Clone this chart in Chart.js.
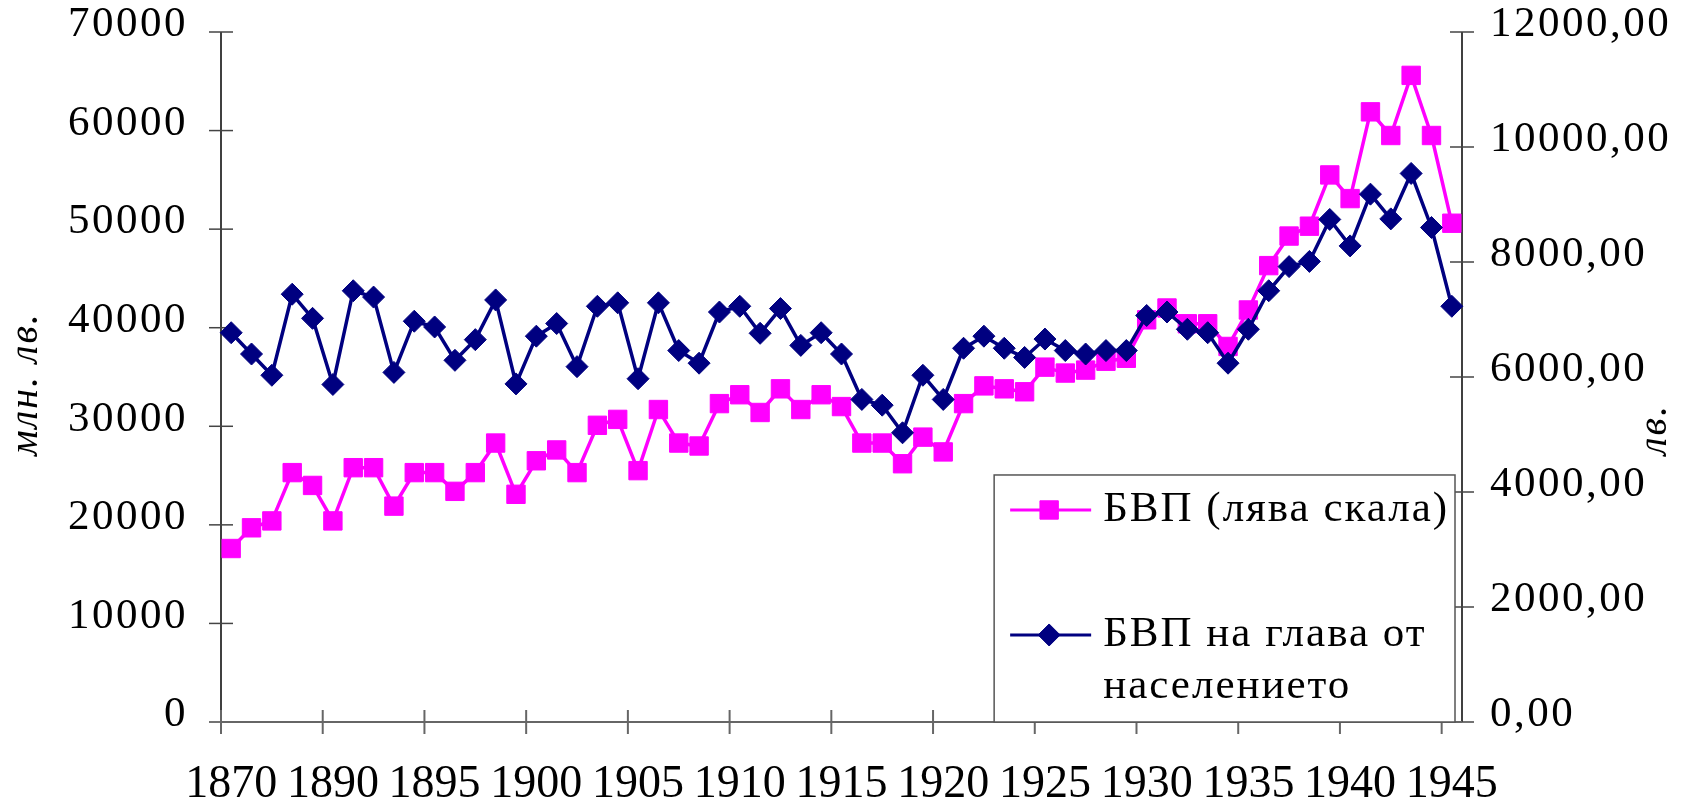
<!DOCTYPE html>
<html>
<head>
<meta charset="utf-8">
<title>БВП 1870-1945</title>
<script src="https://cdn.jsdelivr.net/npm/chart.js@4.4.0/dist/chart.umd.min.js"></script>
<style>
html, body { margin: 0; padding: 0; background: #fff; }
#wrap { width: 1687px; height: 803px; }
</style>
</head>
<body>
<div id="wrap"><canvas id="grafikBVP"></canvas></div>
<script>
// Години (категории)
const godini = ['1870',
  '1886', '1887', '1888', '1889', '1890', '1891', '1892', '1893', '1894', '1895',
  '1896', '1897', '1898', '1899', '1900', '1901', '1902', '1903', '1904', '1905',
  '1906', '1907', '1908', '1909', '1910', '1911', '1912', '1913', '1914', '1915',
  '1916', '1917', '1918', '1919', '1920', '1921', '1922', '1923', '1924', '1925',
  '1926', '1927', '1928', '1929', '1930', '1931', '1932', '1933', '1934', '1935',
  '1936', '1937', '1938', '1939', '1940', '1941', '1942', '1943', '1944', '1945'];

// Години с надпис на оста
const pokazaniGodini = ['1870', '1890', '1895', '1900', '1905', '1910', '1915',
  '1920', '1925', '1930', '1935', '1940', '1945'];

// БВП, млн. лв. (лява скала)
const bvp = [17600,
  19700, 20400, 25300, 24000, 20400, 25800, 25800, 21900, 25300, 25300,
  23400, 25300, 28300, 23100, 26500, 27600, 25300, 30100, 30700, 25500,
  31700, 28300, 28000, 32300, 33200, 31400, 33800, 31700, 33200, 32000,
  28300, 28300, 26200, 28900, 27400, 32300, 34100, 33800, 33500, 36000,
  35400, 35700, 36600, 36900, 40800, 42000, 40400, 40400, 38100, 41800,
  46300, 49300, 50300, 55500, 53100, 61900, 59500, 65600, 59500, 50600];

// БВП на глава от населението, лв. (дясна скала)
const bvpNaGlava = [6770,
  6400, 6030, 7440, 7020, 5870, 7500, 7390, 6080, 6970, 6870,
  6290, 6650, 7340, 5880, 6710, 6930, 6180, 7230, 7290, 5970,
  7290, 6460, 6240, 7130, 7230, 6760, 7190, 6550, 6770, 6400,
  5610, 5510, 5030, 6030, 5610, 6500, 6710, 6500, 6340, 6660,
  6460, 6400, 6460, 6460, 7070, 7130, 6830, 6770, 6240, 6830,
  7500, 7920, 8010, 8740, 8280, 9180, 8750, 9540, 8600, 7230];

// Скали
const lyavaMin = 0, lyavaMax = 70000, lyavaStapka = 10000;
const dyasnaMin = 0, dyasnaMax = 12000, dyasnaStapka = 2000;

const SHRIFT = "'Liberation Serif', 'Times New Roman', serif";

function liniya(ctx, x1, y1, x2, y2) {
  ctx.beginPath();
  ctx.moveTo(x1, y1);
  ctx.lineTo(x2, y2);
  ctx.stroke();
}

// Разредка на буквите (както в оригинала)
const razredka = {
  id: 'razredka',
  beforeDraw(chart) {
    chart.ctx.letterSpacing = '2.5px';
    const xs = chart.scales.x;
    if (!xs._bezRazredka) {
      const orig = xs.drawLabels;
      xs.drawLabels = function (area) {
        this.ctx.save();
        this.ctx.letterSpacing = '0px';
        orig.call(this, area);
        this.ctx.restore();
      };
      xs._bezRazredka = true;
    }
  }
};

// Оси и чертички, пресичащи оста
const osi = {
  id: 'osi',
  beforeDatasetsDraw(chart) {
    const { ctx, chartArea: a, scales } = chart;
    const x = scales.x, y = scales.y, y1 = scales.y1;
    ctx.save();
    ctx.strokeStyle = '#000';
    ctx.lineWidth = 1.5;
    liniya(ctx, a.left, a.top, a.left, a.bottom);
    liniya(ctx, a.right, a.top, a.right, a.bottom);
    ctx.strokeStyle = '#444';
    y.ticks.forEach((t, i) => {
      const py = y.getPixelForTick(i);
      liniya(ctx, a.left - 12, py, a.left + 12, py);
    });
    y1.ticks.forEach((t, i) => {
      const py = y1.getPixelForTick(i);
      liniya(ctx, a.right - 12, py, a.right + 12, py);
    });
    ctx.strokeStyle = '#666';
    ctx.lineWidth = 2;
    liniya(ctx, a.left, a.bottom, a.right, a.bottom);
    const polovina = (x.getPixelForValue(1) - x.getPixelForValue(0)) / 2;
    pokazaniGodini.forEach(g => {
      const px = x.getPixelForValue(godini.indexOf(g)) - polovina;
      liniya(ctx, px, a.bottom - 12, px, a.bottom + 12);
    });
    ctx.restore();
  }
};

// Легенда и заглавия на осите
const legenda = {
  id: 'legenda',
  afterDraw(chart) {
    const { ctx, chartArea: a, scales } = chart;
    const w = a.right - a.left, h = a.bottom - a.top;
    const L = a.left + w * 0.623, T = a.top + h * 0.642;
    const R = a.right - 7, B = a.bottom;
    ctx.save();
    ctx.fillStyle = '#fff';
    ctx.fillRect(L, T, R - L, B - T);
    ctx.strokeStyle = '#555';
    ctx.lineWidth = 1.5;
    ctx.strokeRect(L, T, R - L, B - T);

    const redove = [T + 35, T + 160];
    ctx.font = '43px ' + SHRIFT;
    ctx.textBaseline = 'middle';
    ctx.textAlign = 'left';
    ctx.letterSpacing = '2px';
    chart.data.datasets.forEach((ds, i) => {
      const yy = redove[i];
      ctx.strokeStyle = ds.borderColor;
      ctx.fillStyle = ds.pointBackgroundColor;
      ctx.lineWidth = 3;
      liniya(ctx, L + 16, yy, L + 97, yy);
      ctx.lineWidth = 1;
      Chart.helpers.drawPoint(ctx, {
        pointStyle: ds.pointStyle, radius: ds.pointRadius, rotation: 0, borderWidth: 1
      }, L + 55, yy);
      ctx.fillStyle = '#000';
      ds.label.split('\n').forEach((red, k) => ctx.fillText(red, L + 109, yy + k * 52));
    });

    // заглавия на осите
    ctx.font = 'italic 40px ' + SHRIFT;
    ctx.letterSpacing = '2px';
    ctx.textAlign = 'center';
    ctx.save();
    ctx.translate(a.left - 195, (a.top + a.bottom) / 2 + 7);
    ctx.rotate(-Math.PI / 2);
    ctx.fillText('млн. лв.', 0, 0);
    ctx.restore();
    ctx.save();
    ctx.translate(a.right + 193, scales.y1.getPixelForValue(5000) - 5);
    ctx.rotate(-Math.PI / 2);
    ctx.fillText('лв.', 0, 0);
    ctx.restore();
    ctx.restore();
  }
};

function bezOtstap(s) {
  s.paddingTop = 0;
  s.paddingBottom = 0;
  s.paddingLeft = 0;
  s.paddingRight = 0;
}

const ctxBVP = document.getElementById('grafikBVP').getContext('2d');
new Chart(ctxBVP, {
  type: 'line',
  data: {
    labels: godini,
    datasets: [{
      label: 'БВП (лява скала)',
      data: bvp,
      yAxisID: 'y',
      borderColor: '#FF00FF',
      backgroundColor: '#FF00FF',
      borderWidth: 3.5,
      pointStyle: 'rect',
      pointRadius: 13,
      pointHoverRadius: 13,
      pointBackgroundColor: '#FF00FF',
      pointBorderColor: '#FF00FF',
      pointBorderWidth: 1,
      tension: 0,
      order: 2
    }, {
      label: 'БВП на глава от\nнаселението',
      data: bvpNaGlava,
      yAxisID: 'y1',
      borderColor: '#000080',
      backgroundColor: '#000080',
      borderWidth: 3.5,
      pointStyle: 'rectRot',
      pointRadius: 11,
      pointHoverRadius: 11,
      pointBackgroundColor: '#000080',
      pointBorderColor: '#000080',
      pointBorderWidth: 1,
      tension: 0,
      order: 1
    }]
  },
  options: {
    responsive: true,
    maintainAspectRatio: false,
    animation: false,
    layout: { autoPadding: false, padding: { top: 32, left: 0, right: 0, bottom: 0 } },
    plugins: {
      legend: { display: false },
      tooltip: { enabled: false }
    },
    scales: {
      x: {
        type: 'category',
        offset: true,
        grid: { display: false, drawTicks: false },
        border: { display: false },
        ticks: {
          autoSkip: false,
          maxRotation: 0,
          minRotation: 0,
          padding: 35,
          color: '#000',
          font: { family: SHRIFT, size: 46 },
          callback: function (v, i) {
            const g = godini[i];
            return pokazaniGodini.includes(g) ? g : '';
          }
        },
        afterFit(s) { s.height = 81; bezOtstap(s); }
      },
      y: {
        position: 'left',
        min: lyavaMin,
        max: lyavaMax,
        grid: { display: false, drawTicks: false },
        border: { display: false },
        ticks: {
          stepSize: lyavaStapka,
          padding: 33,
          labelOffset: -7,
          color: '#000',
          font: { family: SHRIFT, size: 43 },
          callback: v => String(v)
        },
        afterFit(s) { s.width = 221; bezOtstap(s); }
      },
      y1: {
        position: 'right',
        min: dyasnaMin,
        max: dyasnaMax,
        grid: { display: false, drawTicks: false },
        border: { display: false },
        ticks: {
          stepSize: dyasnaStapka,
          padding: 28,
          labelOffset: -7,
          color: '#000',
          font: { family: SHRIFT, size: 43 },
          callback: v => v.toFixed(2).replace('.', ',')
        },
        afterFit(s) { s.width = 225; bezOtstap(s); }
      }
    }
  },
  plugins: [razredka, osi, legenda]
});
</script>
</body>
</html>
